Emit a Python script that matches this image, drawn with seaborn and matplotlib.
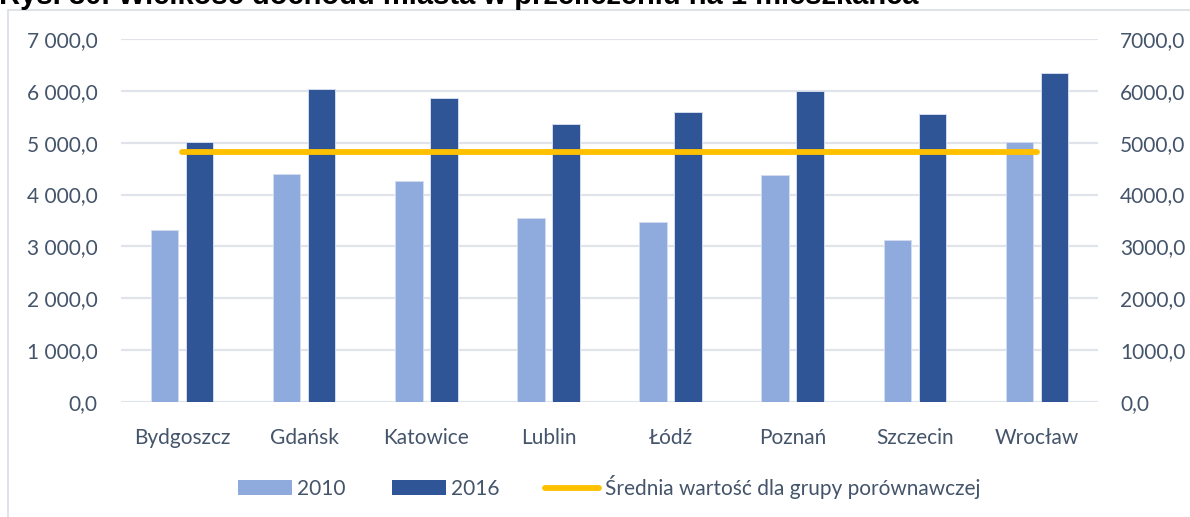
import numpy as np
import pandas as pd
import matplotlib
matplotlib.use("Agg")
import matplotlib.pyplot as plt
import seaborn as sns
from matplotlib.patches import Patch, Rectangle
from matplotlib.lines import Line2D
from matplotlib.ticker import FuncFormatter

# dane
miasta = ["Bydgoszcz", "Gdańsk", "Katowice", "Lublin", "Łódź", "Poznań", "Szczecin", "Wrocław"]
lata = ["2010", "2016"]
dochod_2010 = [3320, 4400, 4260, 3540, 3470, 4380, 3120, 5020]
dochod_2016 = [5010, 6030, 5870, 5370, 5590, 6000, 5560, 6340]
srednia = [4830, 4830, 4830, 4830, 4830, 4830, 4830, 4830]
y_ticks = [0, 1000, 2000, 3000, 4000, 5000, 6000, 7000]

tytul = "Rys. 30. Wielkość dochodu miasta w przeliczeniu na 1 mieszkańca"
etykieta_sredniej = "Średnia wartość dla grupy porównawczej"

df = pd.DataFrame({
    "miasto": miasta * 2,
    "rok": [lata[0]] * len(miasta) + [lata[1]] * len(miasta),
    "dochod": dochod_2010 + dochod_2016,
})

kolory = ["#8FAADC", "#2F5597"]
zolty = "#FFC000"
szary_txt = "#44546A"
siatka = "#E0E4EA"

sns.set_style("white")
plt.rcParams["font.family"] = ["Lato", "DejaVu Sans"]

fig = plt.figure(figsize=(11.9, 5.17), dpi=100)
ax = fig.add_axes([121 / 1190, 1 - 402 / 517, (1098 - 121) / 1190, (402 - 39) / 517])

sns.barplot(data=df, x="miasto", y="dochod", hue="rok", palette=kolory,
            saturation=1, width=0.574, gap=0.216, edgecolor="#D3DCEE",
            linewidth=0.7, legend=False, ax=ax, zorder=2)

ax.plot(np.arange(len(miasta)), srednia, color=zolty, lw=4.2,
        solid_capstyle="round", zorder=4)

ax.set_xlim(-0.5, len(miasta) - 0.5)
ax.set_ylim(0, 7000)
ax.set_yticks(y_ticks)
ax.yaxis.set_major_formatter(FuncFormatter(
    lambda v, p: f"{v:,.1f}".replace(",", " ").replace(".", ",")))
ax.yaxis.grid(True, color=siatka, lw=1.6)
ax.set_axisbelow(True)
ax.set_xlabel("")
ax.set_ylabel("")
for s in ax.spines.values():
    s.set_visible(False)
ax.tick_params(axis="y", length=0, pad=17, labelsize=15, labelcolor=szary_txt)
ax.tick_params(axis="x", length=0, pad=19, labelsize=15, labelcolor=szary_txt)

ax2 = ax.twinx()
ax2.set_ylim(0, 7000)
ax2.set_yticks(y_ticks)
ax2.yaxis.set_major_formatter(FuncFormatter(lambda v, p: f"{v:.1f}".replace(".", ",")))
for s in ax2.spines.values():
    s.set_visible(False)
ax2.tick_params(axis="y", length=0, pad=16, labelsize=15, labelcolor=szary_txt)

# ramka wykresu
fig.patches.append(Rectangle((8 / 1190, -0.05), 1.1, 1 - 10 / 517 + 0.05,
                             transform=fig.transFigure, fill=False,
                             edgecolor="#D9DDE3", lw=1.2, zorder=0))

# tytuł (ucięty u góry, jak w oryginale)
fig.text(-1 / 1190, 1 - 4 / 517, tytul, fontsize=21, fontweight="bold",
         family="Liberation Sans", color="black", ha="left", va="baseline")

uchwyty = [Patch(facecolor=kolory[0], edgecolor="none"),
           Patch(facecolor=kolory[1], edgecolor="none"),
           Line2D([], [], color=zolty, lw=4.2, solid_capstyle="round")]
fig.legend(uchwyty, lata + [etykieta_sredniej], loc="center",
           bbox_to_anchor=(609 / 1190, 1 - 487 / 517), ncol=3, frameon=False,
           fontsize=15, labelcolor=szary_txt, handlelength=2.6,
           handleheight=0.7, handletextpad=0.25, columnspacing=2.2)

fig.savefig("out.png", dpi=100)
